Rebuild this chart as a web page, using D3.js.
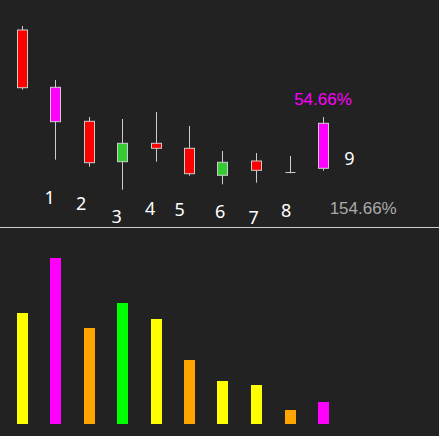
<!DOCTYPE html>
<html><head><meta charset="utf-8">
<script src="https://cdn.jsdelivr.net/npm/d3@7/dist/d3.min.js"></script>
<style>html,body{margin:0;padding:0;background:#222222;overflow:hidden}</style>
</head><body>
<svg id="c" width="439" height="436"></svg>
<script>
// ---- data ----
const idx = [0,1,2,3,4,5,6,7,8,9];
const open  = [220, 162.7, 128.7, 88.3, 106.7, 101.7, 74.7, 89, 78.3, 81.7];
const close = [162.3, 128.3, 87.3, 106.7, 101.7, 76.3, 87.7, 79.7, 78.3, 126.7];
const high  = [224, 170, 133, 131, 138, 124, 99, 97, 94, 133];
const low   = [160.3, 90.3, 83.3, 60.3, 88.3, 74.3, 65.7, 67.3, 76.7, 79.3];
const candleColors = ["#ff0000","#ff00ff","#ff0000","#33cc33","#ff0000","#ff0000","#33cc33","#ff0000","#ff0000","#ff00ff"];
const volume = [111, 166, 96, 121, 105, 64, 43, 39, 14, 22];
const volColors = ["#ffff00","#ff00ff","#ffa500","#00ff00","#ffff00","#ffa500","#ffff00","#ffff00","#ffa500","#ff00ff"];
const labelText = ["1","2","3","4","5","6","7","8","9"];
const labelX = [0.84, 1.78, 2.84, 3.84, 4.72, 5.93, 6.93, 7.90, 9.79];
const labelY = [46, 40, 27, 35, 34, 32, 26, 33, 85];
const pctText = ["54.66%", "154.66%"];
const pctX = [9, 10.2];
const pctY = [145, 36];

// ---- scales ----
const svg = d3.select("#c");
const x = d3.scaleLinear().domain([0, 9]).range([21.5, 323]);
const y = d3.scaleLinear().domain([0, 250]).range([250, 0]);
const yv = d3.scaleLinear().domain([0, 170]).range([424, 254]);
const bw = 10;

// candles
const g = svg.append("g");
g.selectAll("line.wick").data(idx).join("line")
  .attr("x1", i => Math.round(x(i)) + 0.5).attr("x2", i => Math.round(x(i)) + 0.5)
  .attr("y1", i => y(high[i])).attr("y2", i => y(low[i]))
  .attr("stroke", "#cccccc").attr("stroke-width", 1);
g.selectAll("rect.body").data(idx.filter(i => open[i] !== close[i])).join("rect")
  .attr("x", i => Math.round(x(i)) - bw/2 + 0.5)
  .attr("width", bw)
  .attr("y", i => y(Math.max(open[i], close[i])))
  .attr("height", i => Math.abs(y(open[i]) - y(close[i])))
  .attr("fill", i => candleColors[i]).attr("stroke", "#cccccc").attr("stroke-width", 1);
g.selectAll("line.doji").data(idx.filter(i => open[i] === close[i])).join("line")
  .attr("x1", i => Math.round(x(i)) - bw/2 + 0.5).attr("x2", i => Math.round(x(i)) + bw/2 + 0.5)
  .attr("y1", i => Math.round(y(open[i])) + 0.5).attr("y2", i => Math.round(y(open[i])) + 0.5)
  .attr("stroke", "#cccccc").attr("stroke-width", 1);

// labels
svg.selectAll("text.lbl").data(labelText).join("text")
  .attr("x", (d, k) => x(labelX[k])).attr("y", (d, k) => y(labelY[k]))
  .attr("text-anchor", "middle").attr("fill", "#ffffff")
  .attr("font-family", "Noto Sans, sans-serif").attr("font-size", 18)
  .text(d => d);

svg.selectAll("text.pct").data(pctText).join("text")
  .attr("x", (d, k) => x(pctX[k])).attr("y", (d, k) => y(pctY[k]))
  .attr("text-anchor", "middle")
  .attr("fill", (d, k) => k === 0 ? "#ff00ff" : "#aaaaaa")
  .attr("font-family", "Liberation Sans, Arial, sans-serif").attr("font-size", 17)
  .text(d => d);

// separator
svg.append("line").attr("x1", 0).attr("x2", 439).attr("y1", 227.5).attr("y2", 227.5)
  .attr("stroke", "#cccccc").attr("stroke-width", 1);

// volume bars
svg.selectAll("rect.vol").data(idx).join("rect")
  .attr("x", i => Math.round(x(i)) - 5.5 + 0.5).attr("width", 11)
  .attr("y", i => yv(volume[i])).attr("height", i => yv(0) - yv(volume[i]))
  .attr("fill", i => volColors[i]);
</script>
</body></html>
